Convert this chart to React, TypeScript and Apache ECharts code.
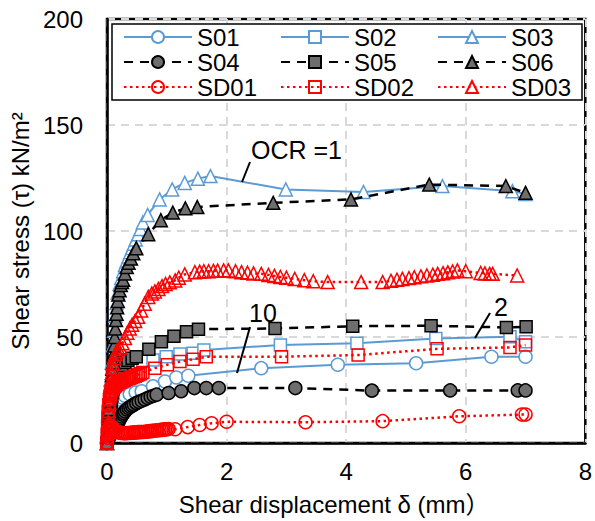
import React, { useEffect, useRef } from "react";
import * as echarts from "echarts";

const xTicks = [0, 2, 4, 6, 8];
const yTicks = [0, 50, 100, 150, 200];
const xTitle = "Shear displacement δ (mm）";
const yTitle = "Shear stress (τ) kN/m²";
const notes = ["OCR =1", "10", "2"];

const seriesNames = ["S01", "S02", "S03", "S04", "S05", "S06", "SD01", "SD02", "SD03"];

const s01 = [[0,0],[0.02,4],[0.04,8],[0.06,11],[0.08,13.5],[0.1,15.5],[0.13,17.5],[0.16,19],[0.2,20.5],[0.25,21.5],[0.3,22.3],[0.38,23],[0.48,23.8],[0.58,24.4],[0.77,26.7],[0.97,29],[1.16,30.9],[1.36,31.7],[2.58,35.3],[3.86,36.9],[5.17,37.6],[6.43,40.7],[7.0,40.7]];
const s02 = [[0,0],[0.02,6],[0.04,12],[0.06,17],[0.08,21],[0.1,24],[0.13,27],[0.16,29.5],[0.2,31.5],[0.25,33.5],[0.3,35],[0.36,36.2],[0.43,37.2],[0.5,38],[0.6,38.6],[0.77,39.2],[0.99,40.7],[1.22,42],[1.44,42.3],[1.62,43.9],[2.9,46.2],[4.18,47],[5.5,49.3],[6.74,50.1],[7.0,47.8]];
const s03 = [[0,0],[0.02,10],[0.04,20],[0.06,30],[0.08,38],[0.1,46],[0.12,53],[0.14,60],[0.16,66],[0.18,71],[0.21,75],[0.24,78],[0.27,81],[0.3,84],[0.33,86],[0.36,88],[0.39,90],[0.42,92],[0.45,94],[0.48,96],[0.52,98.5],[0.56,101],[0.6,104],[0.68,107.6],[0.88,114.9],[1.09,119.6],[1.3,122.7],[1.52,124.7],[1.73,125.9],[2.99,119.6],[4.29,118.4],[5.61,121.2],[6.78,118.8],[7.0,117.5]];
const s04 = [[0,0],[0.02,1.5],[0.04,3],[0.06,4.2],[0.08,5.2],[0.1,6],[0.12,6.8],[0.14,7.6],[0.16,8.4],[0.18,9.4],[0.2,10.4],[0.22,11.5],[0.24,12.5],[0.26,13.4],[0.28,14.2],[0.3,15],[0.33,15.8],[0.36,16.5],[0.39,17.1],[0.42,17.6],[0.45,18.1],[0.49,18.8],[0.53,19.4],[0.58,19.9],[0.63,20.5],[0.68,21.2],[0.73,21.8],[0.78,22.3],[0.83,22.8],[1.03,23.6],[1.24,24.4],[1.46,25.9],[1.66,25.9],[1.87,25.9],[3.15,25.9],[4.43,24.7],[5.74,24.8],[6.87,24.8],[7.0,24.8]];
const s05 = [[0,0],[0.01,3],[0.02,6],[0.03,9],[0.04,12],[0.05,14.5],[0.06,17],[0.07,19.5],[0.08,22],[0.09,24],[0.1,25.5],[0.12,28],[0.14,30],[0.16,32],[0.19,33.5],[0.22,35],[0.25,36.5],[0.3,38],[0.35,39],[0.42,40],[0.49,40.7],[0.7,44.2],[0.91,47.8],[1.12,50.4],[1.33,52.5],[1.53,53.7],[2.81,54],[4.11,55.1],[5.42,55.3],[6.68,54.5],[7.01,54.8]];
const s06 = [[0,0],[0.01,4],[0.02,8],[0.03,12],[0.04,16],[0.05,20],[0.06,24],[0.07,28],[0.08,32],[0.09,35],[0.1,38],[0.11,42],[0.12,46],[0.13,50],[0.14,54],[0.15,58],[0.16,61],[0.17,64],[0.18,67],[0.19,70],[0.21,72],[0.23,74.5],[0.25,76],[0.27,77],[0.3,80],[0.33,83],[0.36,85],[0.4,87],[0.44,89.5],[0.49,91.9],[0.69,98.5],[0.9,105.1],[1.1,108.7],[1.31,110.7],[1.51,111.3],[2.78,113.3],[4.08,114.9],[5.39,121.9],[6.67,121.2],[7.0,118]];
const sd01 = [[0,0],[0.01,2.5],[0.02,4.5],[0.03,6],[0.04,7],[0.05,7.8],[0.07,8],[0.09,7.4],[0.11,6.6],[0.13,6],[0.16,5.4],[0.19,5],[0.22,4.8],[0.25,4.7],[0.28,4.6],[0.31,4.6],[0.34,4.7],[0.37,4.7],[0.4,4.8],[0.43,4.9],[0.46,4.9],[0.49,5],[0.52,5.1],[0.55,5.1],[0.58,5.2],[0.61,5.2],[0.64,5.3],[0.67,5.4],[0.7,5.5],[0.73,5.6],[0.76,5.7],[0.79,5.8],[0.82,5.9],[0.85,6],[0.88,6.1],[0.91,6.2],[0.94,6.3],[0.97,6.4],[1.0,6.5],[1.03,6.6],[1.14,6.5],[1.35,7.5],[1.55,8.5],[1.75,9.3],[2.0,10],[3.32,9.8],[4.61,10.3],[5.89,12.6],[6.94,13.4],[7.0,13.4]];
const sd02 = [[0,0],[0.005,4],[0.01,8],[0.015,12],[0.02,15],[0.03,18],[0.04,20.5],[0.05,22],[0.06,23.2],[0.08,24.5],[0.1,25.6],[0.12,26.4],[0.14,27],[0.16,27.5],[0.18,28],[0.2,28.4],[0.23,28.8],[0.26,29.2],[0.29,29.6],[0.32,30],[0.35,30.3],[0.38,30.6],[0.41,30.9],[0.44,31.2],[0.47,31.5],[0.5,31.9],[0.53,32.3],[0.56,32.7],[0.6,33.2],[0.8,35.3],[1.01,36.9],[1.22,38.4],[1.44,39.5],[1.66,40.7],[2.92,40.7],[4.2,41.5],[5.52,44.4],[6.74,45.1],[7.0,46.2]];
const sd03 = [[0,0],[0.01,5],[0.02,10],[0.03,15],[0.04,19],[0.05,23],[0.06,27],[0.07,30],[0.08,33],[0.09,35.5],[0.1,37.5],[0.12,40],[0.14,42],[0.16,43.3],[0.19,44.3],[0.22,45],[0.26,47],[0.3,49.5],[0.34,52],[0.38,54],[0.42,55.8],[0.47,57.6],[0.52,59.5],[0.57,62.5],[0.63,65.7],[0.69,68.9],[0.75,70.5],[0.8,71.5],[0.86,72.7],[0.92,74],[0.98,75],[1.05,75.8],[1.14,76.7],[1.2,78],[1.3,79.5],[1.47,80.6],[1.55,80.8],[1.62,81],[1.7,81],[1.78,81.2],[1.85,81.3],[1.95,81.4],[2.03,81.4],[2.15,81],[2.25,80.6],[2.35,80.3],[2.45,80],[2.58,79.8],[2.7,79.3],[2.8,78.8],[2.9,78.3],[3.0,78],[3.14,77.4],[3.3,76.8],[3.45,76.3],[3.69,75.9],[4.25,75.9],[4.61,75.9],[4.75,76.5],[4.85,77],[4.94,77.4],[5.05,77.8],[5.14,78.2],[5.25,78.6],[5.35,79],[5.45,79.4],[5.53,79.8],[5.62,80.1],[5.7,80.5],[5.78,80.9],[5.86,81.4],[6.0,81],[6.25,80.2],[6.32,80],[6.4,79.8],[6.45,79.8],[6.86,79]];

const seriesData = [s01, s02, s03, s04, s05, s06, sd01, sd02, sd03];

const FONT = "'Liberation Sans', Arial, 'Noto Sans CJK JP', sans-serif";
const BLUE = "#5B9BD5";
const GREY = "#6e6e6e";
const RED = "#FF0000";

export default function App() {
  const ref = useRef<HTMLDivElement>(null);
  useEffect(() => {
    document.body.style.margin = "0";
    const chart = echarts.init(ref.current!, null, { renderer: "svg" });

    const styles = [
      { line: { color: BLUE, width: 2, type: "solid" }, symbol: "circle", size: 13, fill: "#fff", border: BLUE },
      { line: { color: BLUE, width: 2, type: "solid" }, symbol: "rect", size: 12, fill: "#fff", border: BLUE },
      { line: { color: BLUE, width: 2, type: "solid" }, symbol: "triangle", size: 13, fill: "#fff", border: BLUE },
      { line: { color: "#000", width: 2.5, type: [9, 7] }, symbol: "circle", size: 13, fill: GREY, border: "#000" },
      { line: { color: "#000", width: 2.5, type: [9, 7] }, symbol: "rect", size: 12, fill: GREY, border: "#000" },
      { line: { color: "#000", width: 2.5, type: [9, 7] }, symbol: "triangle", size: 13, fill: GREY, border: "#000" },
      { line: { color: RED, width: 2.5, type: [2.5, 3.5] }, symbol: "circle", size: 13, fill: "rgba(255,255,255,0)", border: RED },
      { line: { color: RED, width: 2.5, type: [2.5, 3.5] }, symbol: "rect", size: 12, fill: "rgba(255,255,255,0)", border: RED },
      { line: { color: RED, width: 2.5, type: [2.5, 3.5] }, symbol: "triangle", size: 13, fill: "rgba(255,255,255,0)", border: RED },
    ];

    const series = seriesNames.map((name, i) => ({
      name,
      type: "line",
      data: seriesData[i],
      symbol: styles[i].symbol,
      symbolSize: styles[i].size,
      showAllSymbol: true,
      lineStyle: styles[i].line,
      itemStyle: { color: styles[i].fill, borderColor: styles[i].border, borderWidth: 1.5 },
      emphasis: { disabled: true },
      z: 2 + i * 0.01,
    }));

    const legendCols = [0, 1, 2].map((c) => ({
      orient: "vertical",
      left: [123, 280, 437][c],
      top: 25,
      padding: 0,
      itemWidth: 68,
      itemHeight: 15,
      itemGap: 1,
      selectedMode: false,
      data: [seriesNames[c], seriesNames[c + 3], seriesNames[c + 6]],
      textStyle: { fontSize: 24, lineHeight: 24, color: "#000", fontFamily: FONT },
    }));

    const axisLabel = { fontSize: 24, color: "#000", fontFamily: FONT };
    const split = { show: true, lineStyle: { color: "#d9d9d9", width: 2, type: [8, 6] } };

    chart.setOption({
      animation: false,
      backgroundColor: "#fff",
      textStyle: { fontFamily: FONT },
      grid: { left: 107, right: 8, top: 19, bottom: 74, show: true, borderColor: "#000", borderWidth: 2.5, backgroundColor: "#fff" },
      legend: legendCols,
      xAxis: {
        type: "value",
        min: xTicks[0],
        max: xTicks[xTicks.length - 1],
        interval: xTicks[1] - xTicks[0],
        axisLine: { show: true, onZero: false, lineStyle: { color: "#000", width: 2.5 } },
        axisTick: { show: false },
        axisLabel: { ...axisLabel, margin: 16 },
        splitLine: split,
        name: xTitle,
        nameLocation: "middle",
        nameGap: 49,
        nameTextStyle: { fontSize: 24, color: "#000", fontFamily: FONT, padding: [0, 24, 0, 0] },
      },
      yAxis: {
        type: "value",
        min: yTicks[0],
        max: yTicks[yTicks.length - 1],
        interval: yTicks[1] - yTicks[0],
        axisLine: { show: true, lineStyle: { color: "#000", width: 2.5 } },
        axisTick: { show: false },
        axisLabel: { ...axisLabel, margin: 24 },
        splitLine: split,
        name: yTitle,
        nameLocation: "middle",
        nameGap: 68,
        nameTextStyle: { fontSize: 24, color: "#000", fontFamily: FONT },
      },
      graphic: [
        { type: "rect", z: 3, shape: { x: 112, y: 24, width: 470, height: 76 }, style: { fill: "#fff", stroke: "#000", lineWidth: 1.5 } },
        { type: "text", z: 10, x: 251, y: 150, style: { text: notes[0], fontSize: 25, fill: "#000", fontFamily: FONT, verticalAlign: "middle" } },
        { type: "line", z: 10, shape: { x1: 250, y1: 162, x2: 242, y2: 182 }, style: { stroke: "#000", lineWidth: 2 } },
        { type: "text", z: 10, x: 249, y: 313, style: { text: notes[1], fontSize: 25, fill: "#000", fontFamily: FONT, verticalAlign: "middle" } },
        { type: "line", z: 10, shape: { x1: 250, y1: 327, x2: 237, y2: 373 }, style: { stroke: "#000", lineWidth: 2 } },
        { type: "text", z: 10, x: 494, y: 307, style: { text: notes[2], fontSize: 25, fill: "#000", fontFamily: FONT, verticalAlign: "middle" } },
        { type: "line", z: 10, shape: { x1: 490, y1: 313, x2: 475, y2: 338 }, style: { stroke: "#000", lineWidth: 2 } },
      ],
      series,
    } as any);

    return () => chart.dispose();
  }, []);
  return <div ref={ref} style={{ width: 595, height: 521 }} />;
}
